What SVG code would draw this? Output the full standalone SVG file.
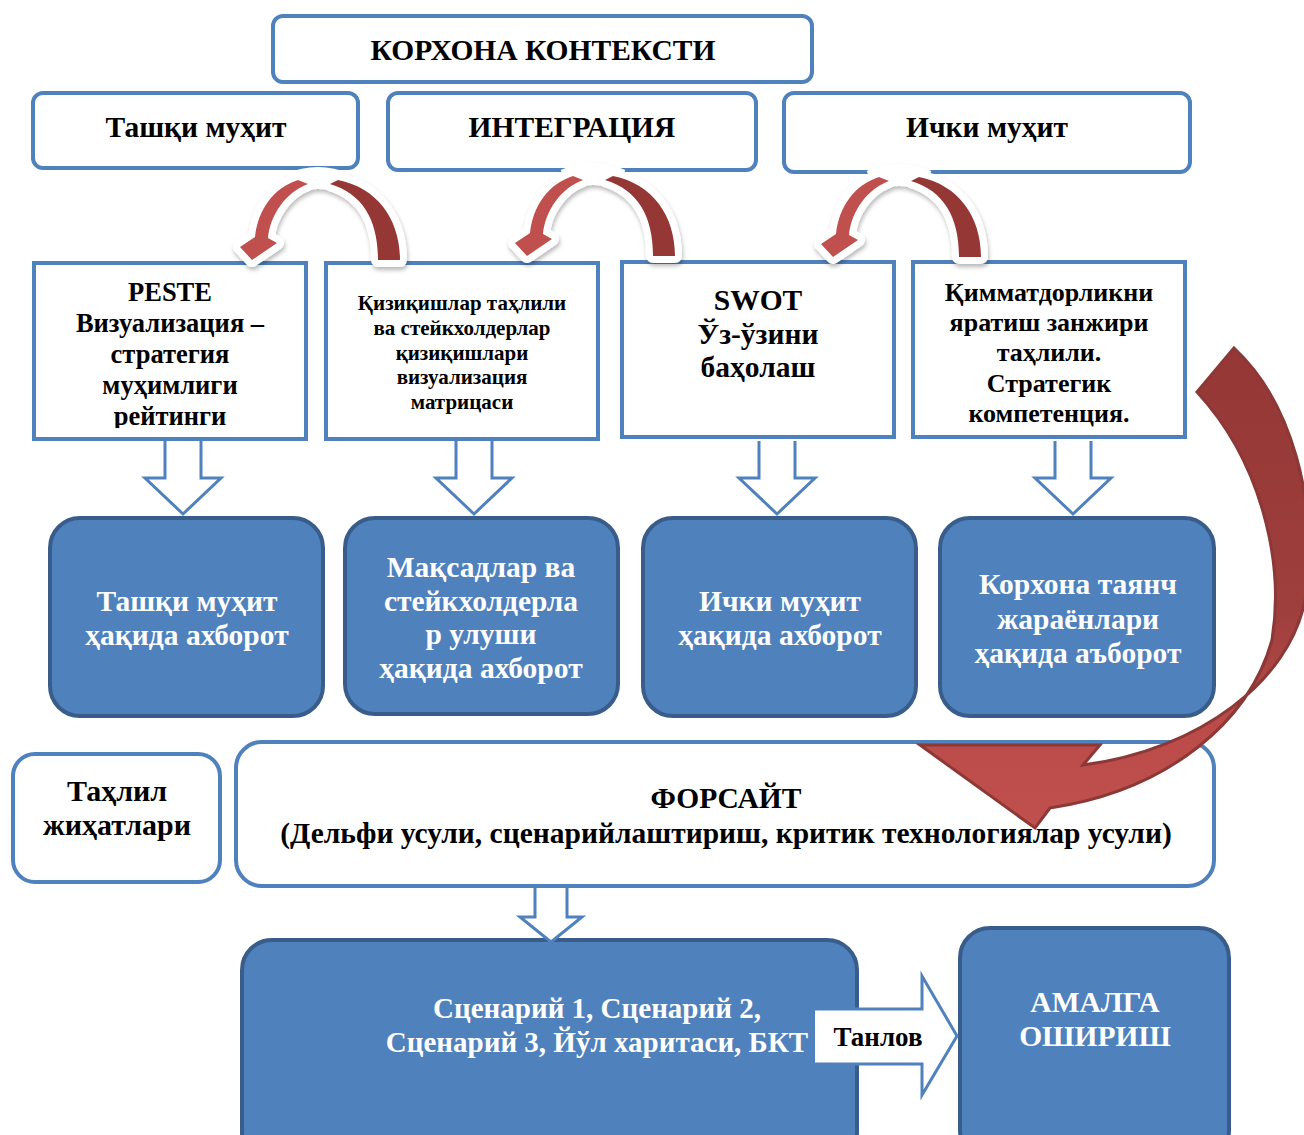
<svg xmlns="http://www.w3.org/2000/svg" width="1304" height="1135" viewBox="0 0 1304 1135">
  <style>
    .frame { fill: #ffffff; stroke: #4F81BD; stroke-width: 4; }
    .solid { fill: #4F81BD; stroke: #385D8A; stroke-width: 4; }
    .t { font-family: "Liberation Serif", "Times New Roman", serif; font-weight: bold; text-anchor: middle; fill: #000000; }
    .w { fill: #ffffff; }
    .hollow { fill: #ffffff; stroke: #4F81BD; stroke-width: 3; stroke-linejoin: miter; }
  </style>
  <defs>
    <filter id="soft" x="-30%" y="-30%" width="160%" height="160%">
      <feDropShadow dx="1" dy="3" stdDeviation="2" flood-color="#000000" flood-opacity="0.28"/>
    </filter>
    <linearGradient id="bigRed" x1="0" y1="0" x2="0" y2="1">
      <stop offset="0" stop-color="#953735"/>
      <stop offset="0.55" stop-color="#9E3F3D"/>
      <stop offset="0.78" stop-color="#BA4B48"/>
      <stop offset="1" stop-color="#C0504D"/>
    </linearGradient>
    <clipPath id="clipPeste">
      <rect x="36" y="265" width="268" height="163"/>
    </clipPath>
    <!-- curved swap arrow, drawn around its peak at (0,0) baseline -->
    <g id="curl">
      <g filter="url(#soft)" fill="#ffffff" stroke="#ffffff" stroke-width="14" stroke-linejoin="round">
        <path d="M 82,0 C 82,-40 60,-72 20,-80 L 12,-76 C 45,-66 60,-40 60,0 Z"/>
        <path d="M -20,-80 C -45,-72 -60,-50 -63,-23 L -78,-13 L -66,0 L -41,-17 L -50,-22 C -48,-45 -32,-68 -10,-76 Z"/>
        <path d="M -28,-76 Q 0,-88 28,-76" fill="none" stroke-width="22"/>
      </g>
      <path d="M 82,0 C 82,-40 60,-72 20,-80 L 12,-76 C 45,-66 60,-40 60,0 Z" fill="#953735"/>
      <path d="M -20,-80 C -45,-72 -60,-50 -63,-23 L -78,-13 L -66,0 L -41,-17 L -50,-22 C -48,-45 -32,-68 -10,-76 Z" fill="#C0504D"/>
    </g>
  </defs>

  <rect width="1304" height="1135" fill="#ffffff"/>

  <!-- header -->
  <g id="context">
    <rect class="frame" x="273" y="16" width="539" height="66" rx="10"/>
    <text class="t" x="543" y="60" font-size="29.5">КОРХОНА КОНТЕКСТИ</text>
  </g>

  <g id="external">
    <rect class="frame" x="33" y="93" width="325" height="75" rx="10"/>
    <text class="t" x="196" y="137" font-size="29.5">Ташқи муҳит</text>
  </g>
  <g id="integration">
    <rect class="frame" x="388" y="93" width="368" height="77" rx="10"/>
    <text class="t" x="572" y="137" font-size="29.5">ИНТЕГРАЦИЯ</text>
  </g>
  <g id="internal">
    <rect class="frame" x="784" y="93" width="406" height="79" rx="10"/>
    <text class="t" x="987" y="137" font-size="29.5">Ички муҳит</text>
  </g>

  <!-- analysis methods -->
  <g id="peste">
    <rect class="frame" x="34" y="263" width="272" height="176"/>
    <g clip-path="url(#clipPeste)">
      <text class="t" x="170" y="301" font-size="26.5">PESTE</text>
      <text class="t" x="170" y="332" font-size="26.5">Визуализация –</text>
      <text class="t" x="170" y="363" font-size="26.5">стратегия</text>
      <text class="t" x="170" y="394" font-size="26.5">муҳимлиги</text>
      <text class="t" x="170" y="425" font-size="26.5">рейтинги</text>
    </g>
  </g>
  <g id="interests">
    <rect class="frame" x="326" y="263" width="272" height="176"/>
    <text class="t" x="462" y="310" font-size="21">Қизиқишлар таҳлили</text>
    <text class="t" x="462" y="335" font-size="21">ва стейкхолдерлар</text>
    <text class="t" x="462" y="360" font-size="21">қизиқишлари</text>
    <text class="t" x="462" y="384" font-size="21">визуализация</text>
    <text class="t" x="462" y="409" font-size="21">матрицаси</text>
  </g>
  <g id="swot">
    <rect class="frame" x="622" y="262" width="272" height="175"/>
    <text class="t" x="758" y="310" font-size="29.5">SWOT</text>
    <text class="t" x="758" y="344" font-size="29.5">Ўз-ўзини</text>
    <text class="t" x="758" y="377" font-size="29.5">баҳолаш</text>
  </g>
  <g id="value-chain">
    <rect class="frame" x="913" y="262" width="272" height="175"/>
    <text class="t" x="1049" y="301" font-size="26">Қимматдорликни</text>
    <text class="t" x="1049" y="331" font-size="26">яратиш занжири</text>
    <text class="t" x="1049" y="361" font-size="26">таҳлили.</text>
    <text class="t" x="1049" y="392" font-size="26">Стратегик</text>
    <text class="t" x="1049" y="422" font-size="26">компетенция.</text>
  </g>

  <!-- information blocks -->
  <g id="info-external">
    <rect class="solid" x="50" y="518" width="273" height="198" rx="30"/>
    <text class="t w" x="187" y="611" font-size="29.5">Ташқи муҳит</text>
    <text class="t w" x="187" y="645" font-size="29.5">ҳақида ахборот</text>
  </g>
  <g id="info-goals">
    <rect class="solid" x="345" y="518" width="273" height="196" rx="30"/>
    <text class="t w" x="481" y="577" font-size="29.5">Мақсадлар ва</text>
    <text class="t w" x="481" y="611" font-size="29.5">стейкхолдерла</text>
    <text class="t w" x="481" y="644" font-size="29.5">р улуши</text>
    <text class="t w" x="481" y="678" font-size="29.5">ҳақида ахборот</text>
  </g>
  <g id="info-internal">
    <rect class="solid" x="643" y="518" width="273" height="198" rx="30"/>
    <text class="t w" x="780" y="611" font-size="29.5">Ички муҳит</text>
    <text class="t w" x="780" y="645" font-size="29.5">ҳақида ахборот</text>
  </g>
  <g id="info-processes">
    <rect class="solid" x="940" y="518" width="274" height="198" rx="30"/>
    <text class="t w" x="1078" y="594" font-size="29.5">Корхона таянч</text>
    <text class="t w" x="1078" y="629" font-size="29.5">жараёнлари</text>
    <text class="t w" x="1078" y="663" font-size="29.5">ҳақида аъборот</text>
  </g>

  <!-- side label and foresight -->
  <g id="aspects">
    <rect class="frame" x="13" y="754" width="207" height="128" rx="22"/>
    <text class="t" x="117" y="801" font-size="30">Таҳлил</text>
    <text class="t" x="117" y="835" font-size="30">жиҳатлари</text>
  </g>
  <g id="foresight">
    <rect class="frame" x="236" y="742" width="978" height="144" rx="26"/>
    <text class="t" x="726" y="808" font-size="29.5">ФОРСАЙТ</text>
    <text class="t" x="726" y="843" font-size="29.5">(Дельфи усули, сценарийлаштириш, критик технологиялар усули)</text>
  </g>

  <!-- results -->
  <g id="scenarios">
    <rect class="solid" x="242" y="940" width="615" height="222" rx="30"/>
    <text class="t w" x="597" y="1018" font-size="29">Сценарий 1, Сценарий 2,</text>
    <text class="t w" x="597" y="1052" font-size="29">Сценарий 3, Йўл харитаси, БКТ</text>
  </g>
  <g id="implementation">
    <rect class="solid" x="960" y="928" width="269" height="232" rx="30"/>
    <text class="t w" x="1095" y="1012" font-size="29.5">АМАЛГА</text>
    <text class="t w" x="1095" y="1046" font-size="29.5">ОШИРИШ</text>
  </g>

  <!-- connectors -->
  <g id="connectors">
    <use href="#curl" transform="translate(318,260)"/>
    <use href="#curl" transform="translate(593,256)"/>
    <use href="#curl" transform="translate(899,257)"/>

    <polyline class="hollow" points="165,441 165,478 145,478 183,514 221,478 201,478 201,441"/>
    <polyline class="hollow" points="456,441 456,478 436,478 474,514 512,478 492,478 492,441"/>
    <polyline class="hollow" points="759,441 759,478 739,478 777,514 815,478 795,478 795,441"/>
    <polyline class="hollow" points="1055,441 1055,478 1035,478 1073,514 1111,478 1091,478 1091,441"/>

    <polyline class="hollow" points="535,888 535,917 520,917 551,942 582,917 567,917 567,888"/>

    <path d="M 1197,392 L 1234,348 C 1290,400 1320,500 1305,600 C 1290,680 1200,750 1083,765 L 1100,745 L 920,745 L 1035,828 L 1050,808 C 1170,790 1250,720 1272,640 C 1285,560 1260,460 1197,392 Z" fill="url(#bigRed)" stroke="#8C3836" stroke-width="3" stroke-linejoin="miter"/>

    <polyline class="hollow" points="815,1009 922,1009 922,976 957,1036 922,1095 922,1064 815,1064"/>
    <text class="t" x="878" y="1046" font-size="27">Танлов</text>
  </g>
</svg>
